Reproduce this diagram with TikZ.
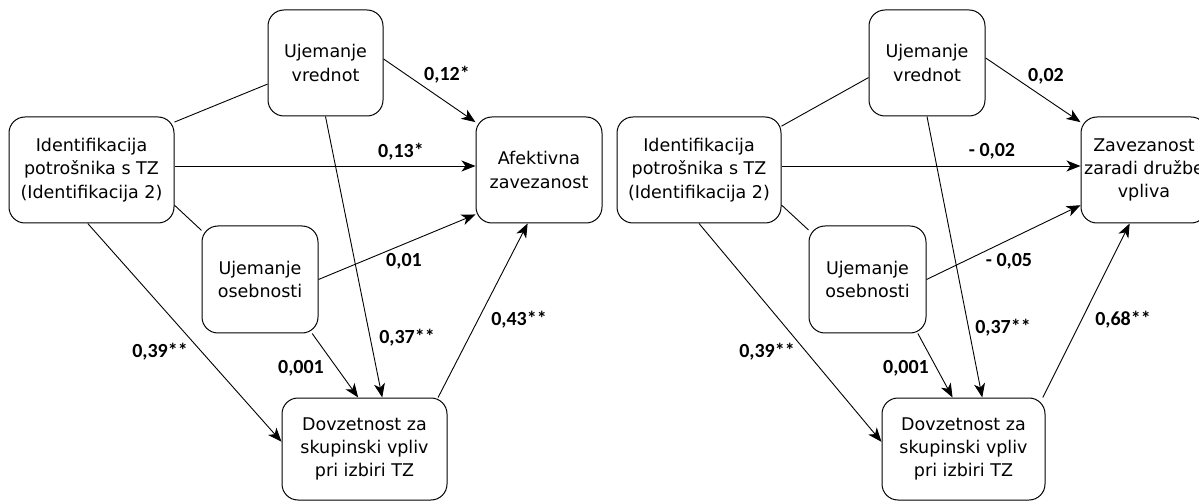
\documentclass[tikz,border=0pt]{standalone}
\usepackage{fontspec}
\setmainfont{DejaVu Sans}
\newfontfamily\coeffont{Carlito}
\usetikzlibrary{calc}
\usetikzlibrary{arrows.meta}

\begin{document}
\begin{tikzpicture}[x=1pt, y=-1pt,
  box/.style={draw, rounded corners=16pt, line width=1pt, align=center, inner sep=1pt, font=\fontsize{17.5}{23.3}\selectfont},
  coef/.style={font=\coeffont\bfseries\fontsize{20}{24}\selectfont, inner sep=0pt},
  link/.style={line width=0.9pt},
  eff/.style={line width=0.9pt, -{Stealth[length=14pt, width=11pt, inset=4pt]}}]
\useasboundingbox (0,0) rectangle (1199,502);

% left model
\node[box, minimum width=115pt, minimum height=106pt] (V1) at (325.5,63) {Ujemanje\\vrednot};
\node[box, minimum width=165pt, minimum height=106pt] (I1) at (91.5,170) {Identifikacija\\potrošnika s TZ\\(Identifikacija 2)};
\node[box, minimum width=116pt, minimum height=107pt] (O1) at (260,279.5) {Ujemanje\\osebnosti};
\node[box, minimum width=165pt, minimum height=102pt] (D1) at (364.5,449) {Dovzetnost za\\skupinski vpliv\\pri izbiri TZ};
\node[box, minimum width=126pt, minimum height=106pt] (A1) at (539,170) {Afektivna\\zavezanost};

\draw[link] (I1.30) -- (V1.200);
\draw[link] (I1.-23) -- (O1.140);
\draw[eff] (V1.4) -- (A1.143);
\draw[eff] ($(I1.east)+(0,-4)$) -- ($(A1.west)+(0,-4)$);
\draw[eff] (O1.east) -- (A1.215);
\draw[eff] (V1.south) -- (D1.71);
\draw[eff] (O1.-46) -- (D1.97);
\draw[eff] (I1.-94) -- (D1.175);
\draw[eff] (D1.35) -- (A1.-102);

\foreach \x/\y/\t [count=\i] in {447/75/{0,12*}, 401/152/{0,13*}, 404/261/{0,01}, 519/320/{0,43**}, 407/338/{0,37**}, 301/368/{0,001}, 160/352/{0,39**}} \node[coef] (cL\i) at (\x,\y) {\t};

% right model
\node[box, minimum width=116pt, minimum height=106pt] (V2) at (927,63) {Ujemanje\\vrednot};
\node[box, minimum width=164pt, minimum height=106pt] (I2) at (699,170) {Identifikacija\\potrošnika s TZ\\(Identifikacija 2)};
\node[box, minimum width=117pt, minimum height=107pt] (O2) at (867.5,279.5) {Ujemanje\\osebnosti};
\node[box, minimum width=163pt, minimum height=102pt] (D2) at (963.5,449) {Dovzetnost za\\skupinski vpliv\\pri izbiri TZ};
\node[box, minimum width=126pt, minimum height=106pt] (Z2) at (1144,170) {Zavezanost\\zaradi družbe\\vpliva};

\draw[link] (I2.28) -- (V2.194);
\draw[link] (I2.-23) -- (O2.140);
\draw[eff] (V2.5) -- (Z2.143);
\draw[eff] ($(I2.east)+(0,-4)$) -- ($(Z2.west)+(0,-4)$);
\draw[eff] (O2.east) -- (Z2.209);
\draw[eff] (V2.south) -- (D2.70);
\draw[eff] (O2.-47) -- (D2.102);
\draw[eff] (I2.south) -- (D2.175);
\draw[eff] (D2.33) -- (Z2.-105);

\foreach \x/\y/\t [count=\i] in {1046/76/{0,02}, 992/151/{- 0,02}, 1009/261/{- 0,05}, 1123/320/{0,68**}, 1003/328/{0,37**}, 906/368/{0,001}, 767/352/{0,39**}} \node[coef] (cR\i) at (\x,\y) {\t};

\end{tikzpicture}
\end{document}
